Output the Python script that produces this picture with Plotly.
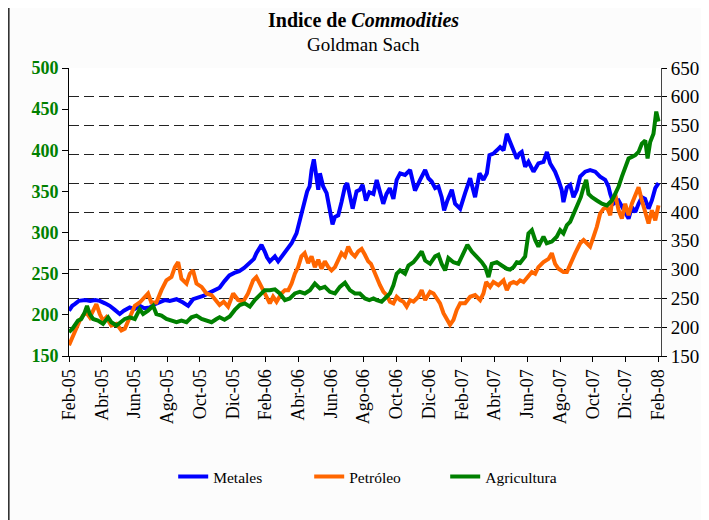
import plotly.graph_objects as go

# months elapsed since 1 Feb 2005 (x positions)
tick_labels = ["Feb-05", "Abr-05", "Jun-05", "Ago-05", "Oct-05", "Dic-05",
               "Feb-06", "Abr-06", "Jun-06", "Ago-06", "Oct-06", "Dic-06",
               "Feb-07", "Abr-07", "Jun-07", "Ago-07", "Oct-07", "Dic-07", "Feb-08"]
tick_months = [0, 2, 4, 6, 8, 10, 12, 14, 16, 18, 20, 22, 24, 26, 28, 30, 32, 34, 36]

metales_mes = [0.0, 0.2, 0.35, 0.6, 1.0, 1.3, 1.6, 1.88, 2.2, 2.49, 2.8, 3.1, 3.35, 3.71, 4.0, 4.32, 4.6, 4.94,
               5.25, 5.55, 5.85, 6.16, 6.57, 6.97, 7.28, 7.58, 7.9, 8.2, 8.6, 8.9, 9.2, 9.5, 9.8, 10.1, 10.4,
               10.7, 11.05, 11.3, 11.45, 11.6, 11.76, 11.96, 12.1, 12.27, 12.45, 12.58, 12.78, 13.0, 13.19,
               13.4, 13.6, 13.9, 14.1, 14.25, 14.4, 14.55, 14.7, 14.82, 14.96, 15.08, 15.23, 15.33, 15.45,
               15.53, 15.74, 15.94, 16.1, 16.25, 16.45, 16.65, 16.86, 17.0, 17.16, 17.33, 17.57, 17.77,
               17.94, 18.14, 18.35, 18.6, 18.8, 19.0, 19.2, 19.4, 19.6, 19.82, 20.02, 20.23, 20.53, 20.84,
               21.0, 21.14, 21.45, 21.76, 21.96, 22.16, 22.37, 22.57, 22.77, 22.92, 23.12, 23.39, 23.59,
               23.9, 24.2, 24.51, 24.81, 25.08, 25.32, 25.53, 25.69, 25.93, 26.14, 26.34, 26.55, 26.75,
               26.95, 27.16, 27.36, 27.52, 27.66, 27.87, 28.07, 28.38, 28.68, 28.99, 29.2, 29.4, 29.7,
               29.9, 30.1, 30.21, 30.42, 30.62, 30.82, 31.03, 31.23, 31.54, 31.84, 32.15, 32.45, 32.76,
               32.96, 33.07, 33.27, 33.58, 33.88, 34.19, 34.39, 34.6, 34.8, 35.0, 35.2, 35.41, 35.61,
               35.82, 36.02]
metales = [205, 211, 213, 217, 218, 217, 218, 217, 214, 211, 206, 201, 205, 209, 207, 211, 208, 209,
           213, 215, 218, 217, 219, 215, 211, 219, 221, 223, 227, 230, 233, 241, 248, 251, 253,
           257, 263, 268, 275, 280, 285, 277, 270, 265, 268, 271, 265, 271, 277,
           282, 287, 299, 315, 330, 339, 350, 356, 376, 389, 368, 352, 372, 360,
           356, 348, 327, 310, 319, 321, 337, 356, 360, 345, 329, 350, 352,
           358, 339, 349, 347, 364, 348, 335, 347, 354, 341, 364, 372, 370, 376,
           364, 351, 364, 376, 366, 362, 354, 356, 343, 327, 339, 352, 335,
           329, 348, 366, 343, 372, 364, 372, 394, 396, 400, 404, 400, 420,
           410, 400, 390, 396, 398, 380, 386, 374, 384, 386, 398, 384, 374,
           364, 352, 337, 355, 358, 343, 352, 368, 374, 376, 374, 368, 364,
           356, 347, 335, 339, 327, 317, 331, 325, 335, 343, 341, 329, 339,
           354, 360]

petroleo_mes = [0.0, 0.2, 0.45, 0.65, 0.85, 1.05, 1.27, 1.47, 1.67, 1.88, 2.08, 2.28, 2.59, 2.9, 3.2, 3.41,
                3.61, 3.81, 4.02, 4.32, 4.63, 4.83, 5.03, 5.34, 5.65, 5.95, 6.26, 6.47, 6.67, 6.87, 7.18,
                7.38, 7.58, 7.79, 8.1, 8.4, 8.71, 9.01, 9.2, 9.45, 9.72, 10.03, 10.33, 10.64, 10.94, 11.25,
                11.45, 11.66, 11.86, 12.07, 12.27, 12.47, 12.68, 12.98, 13.19, 13.4, 13.6, 13.8, 14.0,
                14.2, 14.4, 14.61, 14.82, 15.02, 15.23, 15.43, 15.63, 15.84, 16.04, 16.25, 16.45, 16.65,
                16.86, 17.06, 17.26, 17.47, 17.67, 17.88, 18.08, 18.28, 18.45, 18.6, 18.8, 19.0, 19.21,
                19.41, 19.61, 19.82, 20.02, 20.23, 20.43, 20.63, 20.84, 21.05, 21.35, 21.55, 21.76,
                22.06, 22.27, 22.47, 22.67, 22.88, 23.08, 23.28, 23.49, 23.69, 23.9, 24.2, 24.51, 24.81,
                25.12, 25.32, 25.49, 25.73, 25.93, 26.24, 26.55, 26.75, 26.95, 27.16, 27.36, 27.56,
                27.77, 28.07, 28.28, 28.48, 28.68, 28.99, 29.3, 29.5, 29.7, 29.91, 30.21, 30.42, 30.62,
                30.93, 31.23, 31.44, 31.64, 31.84, 32.05, 32.25, 32.45, 32.66, 32.86, 33.07, 33.17,
                33.37, 33.58, 33.78, 33.98, 34.19, 34.39, 34.6, 34.8, 35.0, 35.21, 35.41, 35.61, 35.82,
                36.02]
petroleo = [163, 172, 185, 193, 199, 203, 197, 205, 213, 201, 193, 197, 187, 189, 181, 183,
            193, 203, 211, 215, 222, 226, 215, 215, 230, 242, 246, 258, 264, 244, 238,
            250, 254, 238, 234, 226, 224, 217, 212, 216, 210, 226, 218, 216, 226, 242,
            246, 238, 230, 222, 214, 222, 216, 226, 230, 230, 238, 250, 258,
            271, 275, 263, 271, 258, 267, 256, 265, 258, 254, 258, 267, 275,
            271, 283, 275, 271, 277, 280, 273, 265, 262, 254, 246, 236, 228,
            224, 216, 214, 222, 218, 216, 210, 218, 216, 222, 230, 218,
            228, 226, 220, 214, 202, 194, 188, 194, 206, 214, 214, 222, 224,
            218, 226, 240, 234, 240, 236, 242, 230, 238, 240, 238, 242,
            240, 248, 252, 250, 258, 264, 268, 275, 262, 256, 252, 252, 262,
            275, 287, 291, 287, 283, 295, 307, 323, 329, 331, 321, 337,
            347, 327, 317, 335, 321, 335, 345, 355, 339, 323, 311, 327, 315,
            333]

agricultura_mes = [0.0, 0.2, 0.55, 0.75, 0.96, 1.1, 1.27, 1.47, 1.77, 2.08, 2.39, 2.59, 2.9, 3.2, 3.41,
                   3.71, 4.02, 4.32, 4.53, 4.83, 5.14, 5.34, 5.65, 5.95, 6.26, 6.57, 6.87, 7.18, 7.48,
                   7.79, 8.1, 8.4, 8.71, 9.01, 9.2, 9.5, 9.82, 10.13, 10.43, 10.74, 11.05, 11.35, 11.66,
                   11.96, 12.27, 12.58, 12.88, 13.19, 13.49, 13.8, 14.1, 14.41, 14.72, 15.02, 15.33,
                   15.63, 15.94, 16.25, 16.55, 16.86, 17.16, 17.47, 17.77, 18.08, 18.35, 18.6, 18.8,
                   19.1, 19.41, 19.61, 19.82, 20.02, 20.23, 20.53, 20.74, 21.04, 21.25, 21.55, 21.76,
                   22.06, 22.37, 22.57, 22.77, 22.98, 23.18, 23.49, 23.79, 24.1, 24.34, 24.61, 24.92,
                   25.22, 25.43, 25.63, 25.83, 26.14, 26.44, 26.75, 26.95, 27.16, 27.36, 27.56, 27.87,
                   28.07, 28.28, 28.48, 28.68, 28.99, 29.19, 29.5, 29.8, 30.01, 30.21, 30.42, 30.62,
                   30.82, 31.03, 31.27, 31.44, 31.6, 31.74, 31.95, 32.25, 32.56, 32.86, 33.17, 33.37,
                   33.58, 33.78, 33.98, 34.19, 34.39, 34.6, 34.8, 35.0, 35.21, 35.35, 35.51, 35.71,
                   35.88, 36.02]
agricultura = [179, 183, 193, 195, 203, 211, 201, 195, 193, 189, 197, 191, 187, 191, 195,
               197, 195, 207, 201, 205, 211, 201, 199, 195, 193, 191, 193, 191, 197,
               199, 195, 193, 191, 195, 197, 194, 198, 206, 212, 214, 210, 218, 224,
               230, 230, 231, 226, 218, 220, 226, 228, 226, 230, 238, 232,
               234, 228, 226, 234, 239, 230, 226, 226, 220, 218, 220, 218,
               216, 222, 226, 236, 250, 254, 250, 260, 264, 269, 277, 266,
               262, 271, 273, 262, 254, 269, 264, 262, 275, 285, 277, 271,
               264, 258, 246, 262, 264, 260, 256, 255, 258, 264, 263, 271,
               299, 303, 291, 283, 295, 287, 289, 295, 303, 299, 309, 313,
               323, 333, 343, 355, 364, 347, 343, 339, 335, 333, 339, 347,
               356, 368, 380, 390, 392, 394, 398, 408, 412, 390, 410, 420,
               447, 435]

FONT = "Liberation Serif"

fig = go.Figure()
# empty trace that activates the right-hand (gridline) axis
fig.add_trace(go.Scatter(x=[], y=[], yaxis="y", showlegend=False, hoverinfo="skip"))
series = [("Metales", metales_mes, metales, "#0000FF"),
          ("Petróleo", petroleo_mes, petroleo, "#FF6600"),
          ("Agricultura", agricultura_mes, agricultura, "#008000")]
for name, xs, ys, col in series:
    fig.add_trace(go.Scatter(x=xs, y=ys, name=name, mode="lines", yaxis="y2",
                             line=dict(color=col, width=4)))

# the page body adds an 8px offset, so the figure is 8px smaller than the window
fig.update_layout(
    width=701, height=512,
    margin=dict(l=61, r=48, t=60, b=164, autoexpand=False),
    paper_bgcolor="#fcfcfc", plot_bgcolor="#ffffff",
    font=dict(family=FONT, color="#000000"),
    showlegend=True,
    legend=dict(orientation="h", x=0.176, y=-0.42, xanchor="left", yanchor="middle",
                font=dict(family=FONT, size=15.5, color="#000000"),
                bgcolor="rgba(0,0,0,0)", entrywidth=91, entrywidthmode="pixels"),
    xaxis=dict(range=[0, 36.17], tickmode="array", tickvals=tick_months, ticktext=tick_labels,
               tickangle=-90, ticks="outside", ticklen=5, tickcolor="#000", showline=True,
               linecolor="#000", linewidth=1, showgrid=False, zeroline=False, automargin=False,
               tickfont=dict(family=FONT, size=18, color="#000")),
    yaxis=dict(range=[150, 650], dtick=50, side="right", showgrid=True, gridcolor="#222222",
               griddash="10px,5px", gridwidth=1, showline=True, linecolor="#444", linewidth=1,
               ticks="outside", ticklen=5, tickcolor="#000", zeroline=False, automargin=False,
               tickfont=dict(family=FONT, size=19, color="#000")),
    yaxis2=dict(range=[150, 500], dtick=50, side="left", overlaying="y", showgrid=False,
                showline=True, linecolor="#000", linewidth=1, ticks="outside", ticklen=6,
                tickcolor="#000", zeroline=False, automargin=False,
                tickfont=dict(family=FONT, size=18, color="#008000", weight="bold")),
    annotations=[
        dict(text="<b>Indice de <i>Commodities</i></b>", xref="paper", yref="paper",
             x=0.498, y=1.165, showarrow=False, xanchor="center", yanchor="middle",
             font=dict(family=FONT, size=20, color="#000")),
        dict(text="Goldman Sach", xref="paper", yref="paper",
             x=0.498, y=1.082, showarrow=False, xanchor="center", yanchor="middle",
             font=dict(family=FONT, size=19, color="#000")),
    ],
    shapes=[dict(type="line", xref="paper", yref="paper", x0=-0.102, x1=-0.102,
                 y0=1.24, y1=-0.58, line=dict(color="#333333", width=2))],
)

fig.write_html("out.html")
